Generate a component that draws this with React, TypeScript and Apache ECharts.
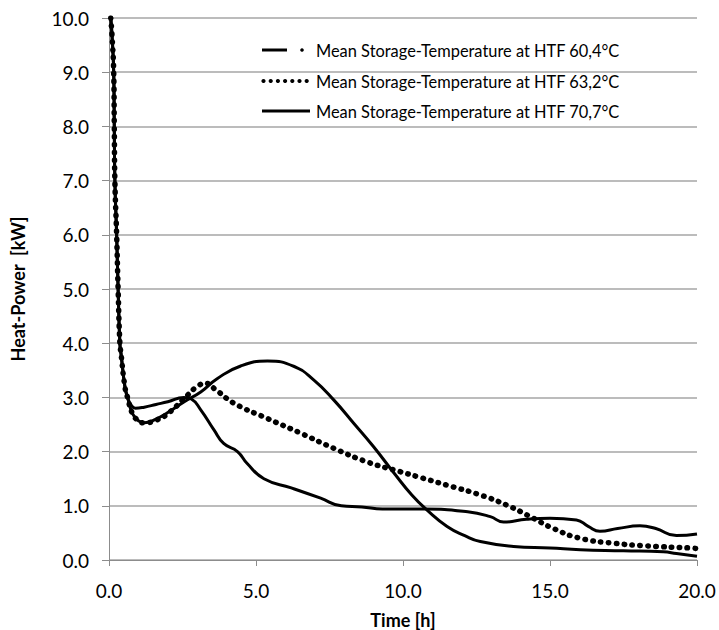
import React, { useEffect, useRef } from "react";
import * as echarts from "echarts";

const seriesNames = [
  "Mean Storage-Temperature at HTF 60,4°C",
  "Mean Storage-Temperature at HTF 63,2°C",
  "Mean Storage-Temperature at HTF 70,7°C",
];

const startT = [0.06, 0.1, 0.16, 0.18, 0.2, 0.26, 0.31, 0.37, 0.41, 0.54, 0.63];
const startV = [10.0, 9.7, 9.0, 8.0, 7.0, 6.0, 5.0, 4.0, 3.8, 3.2, 3.0];

const tA = [0.75, 0.9, 1.2, 1.6, 2.0, 2.55, 2.8, 3.12, 3.57, 3.9, 4.37, 4.7, 5.27, 6.2, 7.2, 7.9, 8.6, 9.3, 10.7, 12.2, 12.97, 13.42, 14.2, 15.0, 15.9, 16.3, 16.7, 17.3, 18.06, 18.6, 19.3, 20.0];
const vA = [2.86, 2.8, 2.82, 2.87, 2.92, 3.0, 2.97, 2.77, 2.4, 2.15, 2.0, 1.78, 1.5, 1.33, 1.14, 1.0, 0.98, 0.94, 0.94, 0.89, 0.8, 0.7, 0.75, 0.77, 0.74, 0.62, 0.53, 0.58, 0.63, 0.58, 0.45, 0.48];

const tB = [0.8, 1.0, 1.2, 1.6, 2.0, 2.56, 3.12, 3.69, 4.48, 5.39, 6.3, 6.97, 7.65, 8.33, 9.0, 9.7, 10.3, 10.82, 11.5, 12.1, 12.63, 13.76, 15.0, 16.03, 17.5, 18.85, 19.3, 20.0];
const vB = [2.7, 2.57, 2.53, 2.6, 2.72, 2.92, 3.1, 3.35, 3.58, 3.67, 3.57, 3.32, 2.95, 2.52, 2.09, 1.6, 1.2, 0.92, 0.62, 0.45, 0.34, 0.25, 0.22, 0.19, 0.17, 0.15, 0.12, 0.07];

const tC = [0.8, 1.0, 1.2, 1.6, 2.0, 2.67, 3.0, 3.29, 3.63, 4.26, 5.39, 6.52, 7.65, 8.78, 9.9, 10.48, 11.5, 12.63, 13.54, 14.33, 15.12, 16.03, 17.16, 18.3, 19.82, 20.0];
const vC = [2.7, 2.57, 2.53, 2.58, 2.7, 3.04, 3.2, 3.26, 3.14, 2.89, 2.61, 2.34, 2.06, 1.81, 1.63, 1.54, 1.38, 1.2, 1.01, 0.8, 0.58, 0.4, 0.31, 0.26, 0.22, 0.21];

const xTicks = [0, 5, 10, 15, 20];

function pairs(t: number[], v: number[]) {
  const out: number[][] = [];
  for (let i = 0; i < startT.length; i++) out.push([startT[i], startV[i]]);
  for (let i = 0; i < t.length; i++) out.push([t[i], v[i]]);
  return out;
}

const FONT = "Lato, 'Open Sans', sans-serif";

export default function App() {
  const ref = useRef<HTMLDivElement>(null);
  useEffect(() => {
    if (!ref.current) return;
    const chart = echarts.init(ref.current, undefined, { renderer: "svg" });
    const legendX0 = 262;
    const rows = [50, 81, 111];
    const dots: any[] = [];
    for (let i = 0; i < 7; i++) {
      dots.push({
        type: "circle",
        shape: { cx: legendX0 + 1.5 + i * 7.2, cy: rows[1], r: 2.1 },
        style: { fill: "#000" },
      });
    }
    chart.setOption({
      animation: false,
      backgroundColor: "#fff",
      grid: { left: 109, right: 22, top: 18, bottom: 70, containLabel: false, outerBoundsMode: "none" },
      xAxis: {
        type: "value",
        min: xTicks[0],
        max: xTicks[xTicks.length - 1],
        interval: 5,
        name: "Time [h]",
        nameLocation: "middle",
        nameGap: 51,
        nameTextStyle: { fontFamily: FONT, fontSize: 18, fontWeight: "bold", color: "#000" },
        axisLine: { show: true, lineStyle: { color: "#8c8c8c", width: 1 } },
        axisTick: { show: true, length: 6, inside: false, lineStyle: { color: "#8c8c8c" } },
        axisLabel: {
          fontFamily: FONT,
          fontSize: 19,
          color: "#000",
          margin: 21,
          formatter: (v: number) => v.toFixed(1),
        },
        splitLine: { show: false },
      },
      yAxis: {
        type: "value",
        min: 0,
        max: 10,
        interval: 1,
        name: "Heat-Power  [kW]",
        nameLocation: "middle",
        nameGap: 82,
        nameRotate: 90,
        nameTextStyle: { fontFamily: FONT, fontSize: 18, fontWeight: "bold", color: "#000" },
        axisLine: { show: true, lineStyle: { color: "#8c8c8c", width: 1 } },
        axisTick: { show: true, length: 7, lineStyle: { color: "#8c8c8c" } },
        axisLabel: {
          fontFamily: FONT,
          fontSize: 19,
          color: "#000",
          margin: 20,
          formatter: (v: number) => v.toFixed(1),
        },
        splitLine: { show: true, lineStyle: { color: "#a6a6a6", width: 1.5 } },
      },
      series: [
        {
          name: seriesNames[0],
          type: "line",
          data: pairs(tA, vA),
          showSymbol: false,
          smooth: 0.5,
          lineStyle: { color: "#000", width: 3 },
          z: 2,
        },
        {
          name: seriesNames[2],
          type: "line",
          data: pairs(tB, vB),
          showSymbol: false,
          smooth: 0.5,
          lineStyle: { color: "#000", width: 3 },
          z: 2,
        },
        {
          name: seriesNames[1],
          type: "line",
          data: pairs(tC, vC),
          showSymbol: false,
          smooth: 0.5,
          lineStyle: { color: "#000", width: 5.5, type: [0.5, 7.4], cap: "round" },
          z: 3,
        },
      ],
      graphic: [
        {
          type: "line",
          shape: { x1: legendX0, y1: rows[0], x2: legendX0 + 25, y2: rows[0] },
          style: { stroke: "#000", lineWidth: 3 },
        },
        {
          type: "circle",
          shape: { cx: legendX0 + 40, cy: rows[0], r: 1.8 },
          style: { fill: "#000" },
        },
        ...dots,
        {
          type: "line",
          shape: { x1: legendX0, y1: rows[2], x2: legendX0 + 48, y2: rows[2] },
          style: { stroke: "#000", lineWidth: 3 },
        },
        ...seriesNames.map((n, i) => ({
          type: "text",
          x: 316,
          y: rows[i],
          style: {
            text: n,
            fill: "#000",
            font: `16.4px ${FONT}`,
            textVerticalAlign: "middle",
            textAlign: "left",
          },
        })),
      ],
    });
    return () => chart.dispose();
  }, []);
  return <div ref={ref} style={{ width: 719, height: 630, position: "absolute", left: 0, top: 0 }} />;
}
